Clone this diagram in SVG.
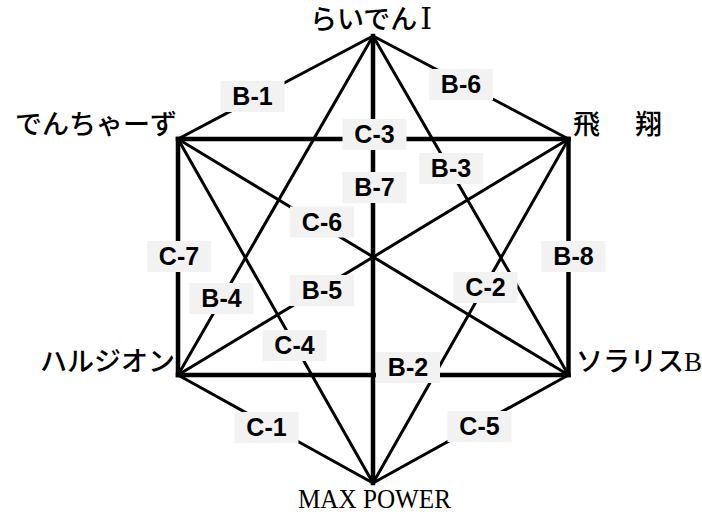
<svg xmlns="http://www.w3.org/2000/svg" width="702" height="515" viewBox="0 0 702 515">
<style>
.thick{stroke:#000;stroke-width:4.5;stroke-linecap:square;fill:none}
.thin{stroke:#000;stroke-width:3;stroke-linecap:round;fill:none}
.lb rect{fill:#f2f2f2}
.lb text{font-family:"Liberation Sans",Arial,sans-serif;font-weight:bold;font-size:25px;text-anchor:middle;fill:#000}
.nd{font-family:"Liberation Serif","Noto Sans CJK JP",serif;font-size:27px;font-weight:500;fill:#000}
.lat{font-family:"Liberation Serif","DejaVu Serif",serif;font-weight:normal}
</style>
<rect width="702" height="515" fill="#fff"/>
<g id="connectors">
<line class="thin" x1="373" y1="36" x2="178" y2="139"/>
<line class="thin" x1="373" y1="36" x2="568.5" y2="139"/>
<line class="thin" x1="373" y1="36" x2="568.5" y2="375"/>
<line class="thin" x1="373" y1="36" x2="178" y2="375"/>
<line class="thin" x1="178" y1="139" x2="568.5" y2="375"/>
<line class="thin" x1="568.5" y1="139" x2="178" y2="375"/>
<line class="thin" x1="568.5" y1="139" x2="373" y2="483"/>
<line class="thin" x1="178" y1="139" x2="373" y2="483"/>
<line class="thin" x1="178" y1="375" x2="373" y2="483"/>
<line class="thin" x1="568.5" y1="375" x2="373" y2="483"/>
<line class="thick" x1="178" y1="139" x2="568.5" y2="139"/>
<line class="thick" x1="178" y1="375" x2="568.5" y2="375"/>
<line class="thick" x1="178" y1="139" x2="178" y2="375"/>
<line class="thick" x1="568.5" y1="139" x2="568.5" y2="375"/>
<line class="thick" x1="373" y1="36" x2="373" y2="483"/>
<g class="lb">
<rect x="220.5" y="81" width="64" height="31"/><text x="252.5" y="105">B-1</text>
<rect x="429" y="69" width="64" height="31"/><text x="461" y="93">B-6</text>
<rect x="342.5" y="119" width="64" height="31"/><text x="374.5" y="143">C-3</text>
<rect x="419" y="153" width="64" height="31"/><text x="451" y="177">B-3</text>
<rect x="342.5" y="172" width="64" height="31"/><text x="374.5" y="196">B-7</text>
<rect x="290" y="206.5" width="64" height="31"/><text x="322" y="230.5">C-6</text>
<rect x="147" y="241" width="64" height="31"/><text x="179" y="265">C-7</text>
<rect x="541.5" y="241" width="64" height="31"/><text x="573.5" y="265">B-8</text>
<rect x="189.5" y="283" width="64" height="31"/><text x="221.5" y="307">B-4</text>
<rect x="290" y="275" width="64" height="31"/><text x="322" y="299">B-5</text>
<rect x="453.5" y="272" width="64" height="31"/><text x="485.5" y="296">C-2</text>
<rect x="262.5" y="330" width="64" height="31"/><text x="294.5" y="354">C-4</text>
<rect x="376" y="352" width="64" height="31"/><text x="408" y="376">B-2</text>
<rect x="234.5" y="412" width="64" height="31"/><text x="266.5" y="436">C-1</text>
<rect x="447.5" y="411" width="64" height="31"/><text x="479.5" y="435">C-5</text>
</g>
</g>
<g id="node-raiden"><text class="nd" x="310" y="29">らいでん<tspan class="lat" font-size="30" dx="3">Ⅰ</tspan></text></g>
<g id="node-denchazu"><text class="nd" x="177" y="134" text-anchor="end">でんちゃーず</text></g>
<g id="node-hisho"><text class="nd" x="573" y="134" letter-spacing="4">飛　翔</text></g>
<g id="node-haruzion"><text class="nd" x="175" y="371" text-anchor="end">ハルジオン</text></g>
<g id="node-solaris"><text class="nd" x="576" y="371">ソラリス<tspan class="lat" font-size="27">B</tspan></text></g>
<g id="node-maxpower"><text class="nd lat" x="298" y="508" font-size="32" textLength="153" lengthAdjust="spacingAndGlyphs">MAX POWER</text></g>
</svg>
